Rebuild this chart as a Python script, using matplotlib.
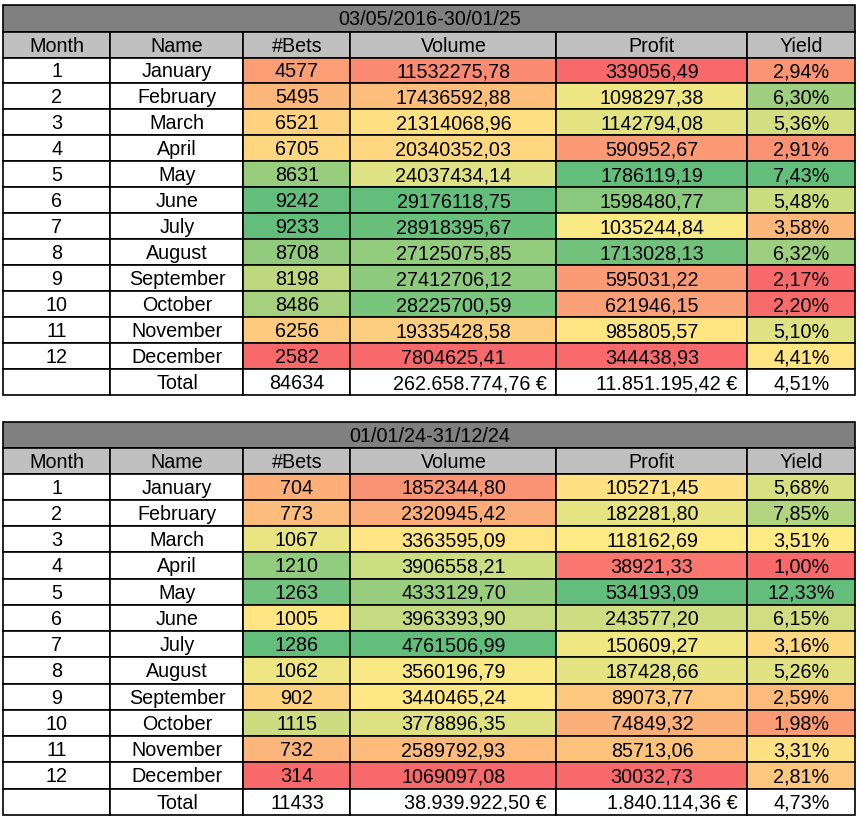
"""
plot.py
Two monthly betting summary tables with Excel-style 3-colour scales.
"""
import numpy as np
import matplotlib.pyplot as plt
from matplotlib.patches import Rectangle
from matplotlib.colors import to_rgb

plt.rcParams['font.family'] = ['Liberation Sans', 'DejaVu Sans']

# ---- data ----
columns = ["Month", "Name", "#Bets", "Volume", "Profit", "Yield"]
month_nums = list(range(1, 13))
month_names = ["January", "February", "March", "April", "May", "June", "July",
               "August", "September", "October", "November", "December"]

title_1 = "03/05/2016-30/01/25"
bets_1 = [4577, 5495, 6521, 6705, 8631, 9242, 9233, 8708, 8198, 8486, 6256, 2582]
volume_1 = [11532275.78, 17436592.88, 21314068.96, 20340352.03, 24037434.14, 29176118.75,
            28918395.67, 27125075.85, 27412706.12, 28225700.59, 19335428.58, 7804625.41]
profit_1 = [339056.49, 1098297.38, 1142794.08, 590952.67, 1786119.19, 1598480.77,
            1035244.84, 1713028.13, 595031.22, 621946.15, 985805.57, 344438.93]
yield_1 = [2.94, 6.30, 5.36, 2.91, 7.43, 5.48, 3.58, 6.32, 2.17, 2.20, 5.10, 4.41]
totals_1 = [84634, 262658774.76, 11851195.42, 4.51]

title_2 = "01/01/24-31/12/24"
bets_2 = [704, 773, 1067, 1210, 1263, 1005, 1286, 1062, 902, 1115, 732, 314]
volume_2 = [1852344.80, 2320945.42, 3363595.09, 3906558.21, 4333129.70, 3963393.90,
            4761506.99, 3560196.79, 3440465.24, 3778896.35, 2589792.93, 1069097.08]
profit_2 = [105271.45, 182281.80, 118162.69, 38921.33, 534193.09, 243577.20,
            150609.27, 187428.66, 89073.77, 74849.32, 85713.06, 30032.73]
yield_2 = [5.68, 7.85, 3.51, 1.00, 12.33, 6.15, 3.16, 5.26, 2.59, 1.98, 3.31, 2.81]
totals_2 = [11433, 38939922.50, 1840114.36, 4.73]

# ---- layout ----
col_edges = [3.5, 110.5, 243.5, 350.5, 556.5, 747.5, 855.5]
FS = 14.2
RED, YEL, GRN = to_rgb("#F8696B"), to_rgb("#FFEB84"), to_rgb("#63BE7B")


def scale_colors(vals, ref=None):
    # excel 3-colour scale: min red, 50th percentile yellow, max green
    v = np.asarray(vals, dtype=float)
    r = v if ref is None else np.asarray(ref, dtype=float)
    lo, mid, hi = r.min(), np.percentile(r, 50), r.max()
    out = []
    for x in v:
        if x <= mid:
            t = 0 if mid == lo else (x - lo) / (mid - lo)
            c = [a + (b - a) * t for a, b in zip(RED, YEL)]
        else:
            t = (x - mid) / (hi - mid)
            c = [a + (b - a) * t for a, b in zip(YEL, GRN)]
        out.append(c)
    return out


def dec(x):
    return f"{x:.2f}".replace(".", ",")


def euro(x):
    s = f"{x:,.2f}"
    return s.replace(",", "X").replace(".", ",").replace("X", ".") + " €"


def cell(ax, i, y, h, txt, fc, right=False):
    ax.add_patch(Rectangle((col_edges[i], y), col_edges[i + 1] - col_edges[i], h,
                           facecolor=fc, edgecolor="black", lw=1.2))
    if right:
        # accounting-style totals sit against the right edge
        ax.text(col_edges[i + 1] - 10, y + h / 2 + 1.5, txt,
                ha="right", va="center", fontsize=FS)
    else:
        ax.text((col_edges[i] + col_edges[i + 1]) / 2, y + h / 2 + 1.5, txt,
                ha="center", va="center", fontsize=FS)


def draw_table(ax, top, title, bets, volume, profit, yld, totals,
               title_h, head_h, row_h):
    x0, x1 = col_edges[0], col_edges[-1]
    # title bar
    ax.add_patch(Rectangle((x0, top), x1 - x0, title_h, facecolor="#808080",
                           edgecolor="black", lw=1.2))
    ax.text((x0 + x1) / 2, top + title_h / 2 + 1.5, title, ha="center", va="center", fontsize=FS)
    # header
    y = top + title_h
    for i, name in enumerate(columns):
        cell(ax, i, y, head_h, name, "#C0C0C0")
    y += head_h

    col_vals = [bets, volume, profit, yld]
    col_cols = [scale_colors(bets), scale_colors(volume), scale_colors(profit),
                scale_colors(yld, list(yld) + [totals[3]])]
    fmt = [str, dec, dec, lambda v: dec(v) + "%"]
    for r in range(12):
        cell(ax, 0, y, row_h, str(month_nums[r]), "white")
        cell(ax, 1, y, row_h, month_names[r], "white")
        for k in range(4):
            cell(ax, k + 2, y, row_h, fmt[k](col_vals[k][r]), col_cols[k][r])
        y += row_h

    # total row
    tot = ["", "Total", str(totals[0]), euro(totals[1]), euro(totals[2]), dec(totals[3]) + "%"]
    for i, txt in enumerate(tot):
        cell(ax, i, y, row_h, txt, "white", right=(i in (3, 4)))


fig = plt.figure(figsize=(8.62, 8.19), dpi=100)
ax = fig.add_axes([0, 0, 1, 1])
ax.set_xlim(0, 862)
ax.set_ylim(819, 0)
ax.axis("off")

draw_table(ax, 4.5, title_1, bets_1, volume_1, profit_1, yield_1, totals_1, 27.5, 25.5, 25.98)
draw_table(ax, 421.5, title_2, bets_2, volume_2, profit_2, yield_2, totals_2, 26, 26, 26.25)

fig.savefig("out.png", dpi=100)
